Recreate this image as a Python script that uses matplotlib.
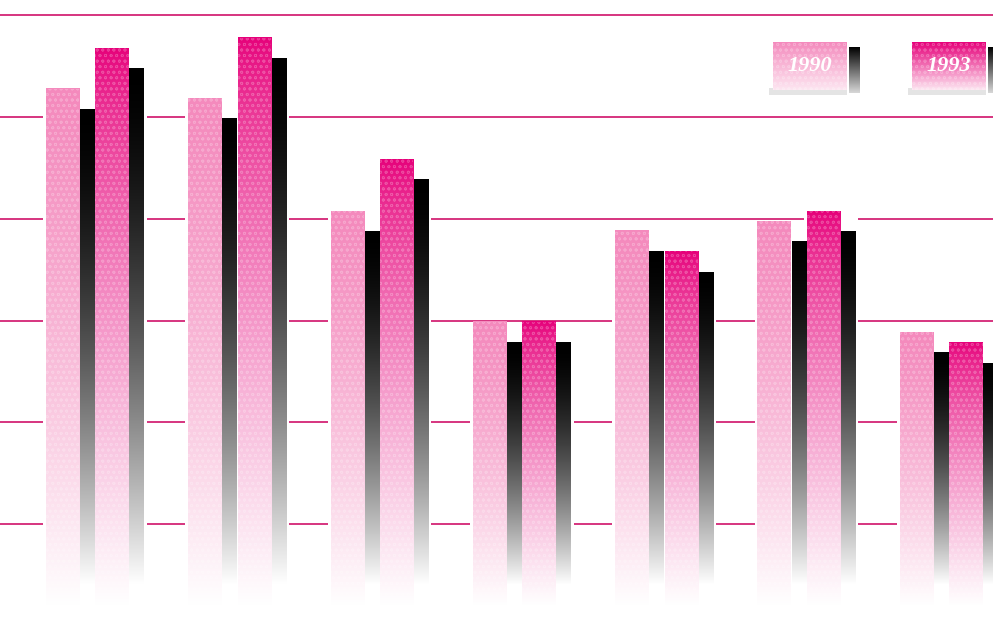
import numpy as np
import matplotlib.pyplot as plt
from matplotlib.colors import to_rgb
from matplotlib.patches import Rectangle

# values (grid lines at 1..6)
groups = ['A', 'B', 'C', 'D', 'E', 'F', 'G']
v1990 = [5.28, 5.19, 4.08, 2.99, 3.89, 3.98, 2.89]
v1993 = [5.68, 5.78, 4.59, 2.99, 3.68, 4.08, 2.79]
years = ['1990', '1993']
grid_vals = [1, 2, 3, 4, 5, 6]

c1990 = '#f48abd'
c1993 = '#e6007a'
grid_c = '#d6347f'


def grad_img(ax, x0, x1, ybot, ytop, ctop, cbot, power=1.0, z=3):
    # vertical gradient, top colour -> bottom colour (row 0 drawn at ytop)
    t = np.linspace(0, 1, 200) ** power
    a = np.array(to_rgb(ctop))
    b = np.array(to_rgb(cbot))
    img = a[None, :] * (1 - t[:, None]) + b[None, :] * t[:, None]
    img = img[:, None, :]
    ax.imshow(img, extent=(x0, x1, ybot, ytop), origin='upper', aspect='auto',
              interpolation='bilinear', zorder=z)


def dots(ax, x0, x1, y0, y1, z=4):
    ax.add_patch(Rectangle((x0, y0), x1 - x0, y1 - y0, fill=False, lw=0,
                           hatch='ooo', edgecolor=(1, 1, 1, 0.22), zorder=z))


plt.rcParams['hatch.linewidth'] = 0.6
fig = plt.figure(figsize=(9.93, 6.23), dpi=100)
ax = fig.add_axes([0, 0, 1, 1])
ax.set_xlim(-0.323, 6.655)
ax.set_ylim(0.03, 6.15)
ax.axis('off')

for g in grid_vals:
    ax.axhline(g, color=grid_c, lw=1.4, zorder=1)

bw = 0.235
sw = 0.107
off = 0.21
base = 0.2
for i, (a, b) in enumerate(zip(v1990, v1993)):
    for k, (val, col) in enumerate([(a, c1990), (b, c1993)]):
        x0 = i + k * 0.347
        # white gap around each bar
        ax.add_patch(Rectangle((x0 - 0.02, base), bw + sw + 0.04, val - base,
                               color='white', lw=0, zorder=2))
        if k == 0:
            grad_img(ax, x0, x0 + bw, base, val, col, '#ffffff', power=1.3)
        else:
            grad_img(ax, x0, x0 + bw, base, val, col, '#ffffff', power=0.75)
        dots(ax, x0, x0 + bw, base, val)
        grad_img(ax, x0 + bw + 0.005, x0 + bw + sw, base + 0.2, val - off,
                 '#000000', '#ffffff', power=1.6)

# legend drawn in pixel space
lax = fig.add_axes([0, 0, 1, 1], facecolor='none')
lax.set_xlim(0, 993)
lax.set_ylim(623, 0)
lax.axis('off')
for x0, yr, col in [(773, years[0], c1990), (912, years[1], c1993)]:
    lax.add_patch(Rectangle((x0 - 4, 88), 78, 7, color='#e4e4e4', lw=0, zorder=1))
    grad_img(lax, x0, x0 + 74, 90, 42, col, '#fde6f1', power=1.0)
    dots(lax, x0, x0 + 74, 42, 90)
    grad_img(lax, x0 + 76, x0 + 87, 93, 47, '#000000', '#d8d8d8', power=1.0)
    lax.text(x0 + 37, 66, yr, color='white', fontsize=16, style='italic',
             weight='bold', family='Liberation Serif', ha='center', va='center',
             zorder=6)

fig.savefig('out.png', dpi=100)
